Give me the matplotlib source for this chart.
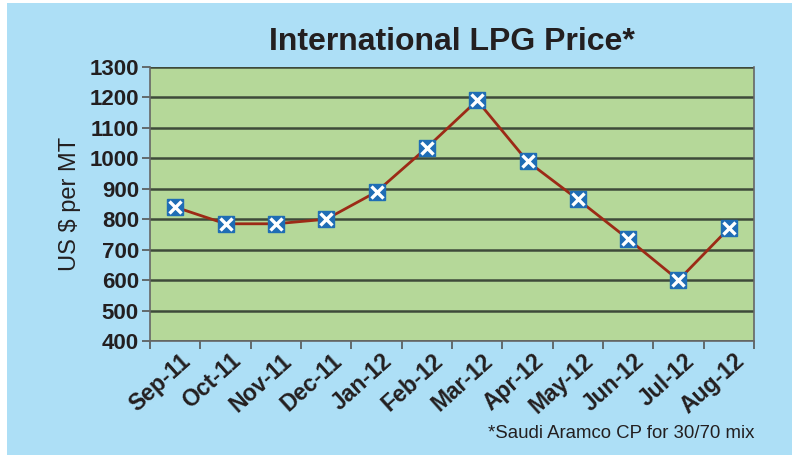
import matplotlib.pyplot as plt
import matplotlib.transforms as mtransforms
from matplotlib.patches import Rectangle

months = ["Sep-11", "Oct-11", "Nov-11", "Dec-11", "Jan-12", "Feb-12",
          "Mar-12", "Apr-12", "May-12", "Jun-12", "Jul-12", "Aug-12"]
prices = [840, 785, 785, 800, 890, 1035, 1190, 990, 865, 735, 600, 770]
yticks = list(range(400, 1301, 100))

bg_blue = "#ADDFF6"
plot_green = "#B5D899"

plt.rcParams['font.family'] = ['Liberation Sans', 'DejaVu Sans']

fig = plt.figure(figsize=(7.92, 4.55), dpi=100, facecolor="white")
fig.patches.append(Rectangle((7 / 792, 0), 1, 1 - 3 / 455, transform=fig.transFigure,
                             facecolor=bg_blue, edgecolor="none", zorder=-10))

ax = fig.add_axes([150 / 792, 1 - 341 / 455, 604 / 792, 274 / 455])
ax.set_facecolor(plot_green)

x = list(range(len(months)))
ax.plot(x, prices, color="#9C2A16", lw=2, zorder=3)
ax.plot(x, prices, ls="none", marker="s", ms=11, mfc="#1F6DB5", mec="#1F6DB5", zorder=4)
ax.plot(x, prices, ls="none", marker="x", ms=9, mew=2.4, color="white", zorder=5)

ax.set_xlim(-0.5, len(months) - 0.5)
ax.set_ylim(400, 1300)
ax.set_yticks(yticks)
ax.set_yticklabels([str(v) for v in yticks], fontsize=16, fontweight="bold", color="#231F20")
ax.yaxis.grid(True, color="#3E4A3A", lw=1.8)
ax.set_axisbelow(True)

ax.set_xticks([i - 0.5 for i in range(len(months) + 1)])
ax.set_xticklabels([])
ax.set_xticks(x, minor=True)
ax.set_xticklabels(months, minor=True, rotation=42, ha="right", rotation_mode="anchor",
                   fontsize=16.5, fontweight="bold", color="#231F20")
ax.tick_params(axis="x", which="minor", length=0, pad=6)
ax.tick_params(axis="x", which="major", length=6, width=1.2, color="#555555", direction="out")
ax.tick_params(axis="y", length=6, width=1.2, color="#555555", pad=2)
shift = mtransforms.ScaledTranslation(5 / 100, 0, fig.dpi_scale_trans)
for lbl in ax.get_xticklabels(minor=True):
    lbl.set_transform(lbl.get_transform() + shift)

ax.spines["top"].set_visible(False)
for s in ["left", "bottom", "right"]:
    ax.spines[s].set_color("#666666")
    ax.spines[s].set_linewidth(1.2)

ax.set_ylabel("US $ per MT", fontsize=17, color="#231F20", labelpad=6)

fig.text(452 / 792, 1 - 42 / 455, "International LPG Price*", ha="center", va="center",
         fontsize=23, fontweight="bold", color="#231F20")
fig.text(754 / 792, 1 - 434 / 455, "*Saudi Aramco CP for 30/70 mix", ha="right", va="center",
         fontsize=13.4, color="#231F20")

fig.savefig("out.png", dpi=100, facecolor=fig.get_facecolor())
